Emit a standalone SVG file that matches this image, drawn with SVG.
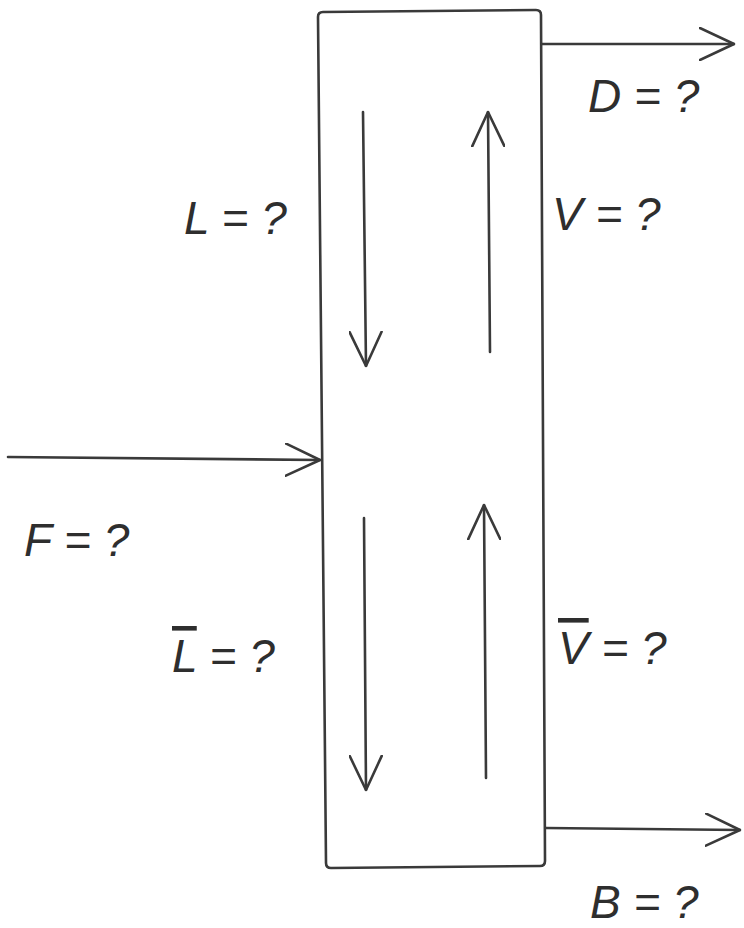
<svg xmlns="http://www.w3.org/2000/svg" width="744" height="928" viewBox="0 0 744 928">
<style>
.ln{fill:none;stroke:#3a3a3a;stroke-width:2.6;stroke-linecap:round;stroke-linejoin:round}
.lbl{font-family:"Liberation Sans",Arial,sans-serif;font-style:italic;font-size:46px;fill:#2e2e2e}
.bar{text-decoration:overline}
</style>
<defs>
<marker id="ah" viewBox="0 0 36 34" refX="35" refY="17" markerWidth="36" markerHeight="34" markerUnits="userSpaceOnUse" orient="auto">
<path d="M1,1 L35,17 L1,33" fill="none" stroke="#3a3a3a" stroke-width="2.6" stroke-linecap="round" stroke-linejoin="round"/>
</marker>
</defs>
<rect width="744" height="928" fill="#ffffff"/>
<g id="column">
<path class="ln" d="M323,12 L536,10 Q541,10 541,15 L545,861 Q545,866 540,866 L331,868 Q326,868 326,863 L318,17 Q318,12 323,12 Z"/>
</g>
<g id="connectors">
<path class="ln" marker-end="url(#ah)" d="M542,44 L734,44"/>
<path class="ln" marker-end="url(#ah)" d="M8,457 L320,460"/>
<path class="ln" marker-end="url(#ah)" d="M546,828 L740,830"/>
<path class="ln" marker-end="url(#ah)" d="M363,112 L366,366"/>
<path class="ln" marker-end="url(#ah)" d="M490,352 L488,112"/>
<path class="ln" marker-end="url(#ah)" d="M364,518 L366,790"/>
<path class="ln" marker-end="url(#ah)" d="M486,778 L484,505"/>
</g>
<g id="label-D"><text class="lbl" x="588" y="112">D = ?</text></g>
<g id="label-L"><text class="lbl" x="184" y="234">L = ?</text></g>
<g id="label-V"><text class="lbl" x="552" y="230">V = ?</text></g>
<g id="label-F"><text class="lbl" x="24" y="556">F = ?</text></g>
<g id="label-Lbar"><text class="lbl" x="172" y="672"><tspan class="bar">L</tspan> = ?</text></g>
<g id="label-Vbar"><text class="lbl" x="558" y="664"><tspan class="bar">V</tspan> = ?</text></g>
<g id="label-B"><text class="lbl" x="590" y="918">B = ?</text></g>
</svg>
